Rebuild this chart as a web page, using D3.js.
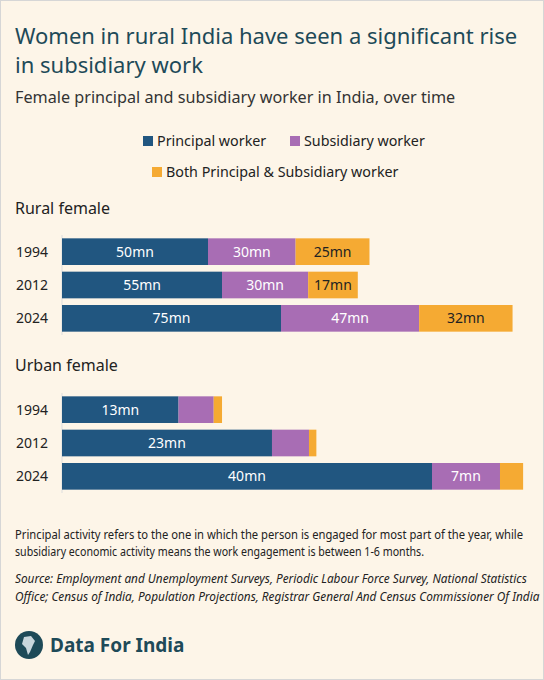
<!DOCTYPE html>
<html><head><meta charset="utf-8">
<script src="https://cdn.jsdelivr.net/npm/d3@7"></script>
<style>body{margin:0;background:#fff}</style>
</head><body><div class="container"></div>
<script>
const years = ['1994', '2012', '2024']
const seriesNames = ['Principal worker', 'Subsidiary worker', 'Both Principal & Subsidiary worker']
const colors = ['#215680', '#a86db4', '#f5aa33']
// rural female, millions
const ruralPrincipal = [50, 54.8, 75]
const ruralSubsidiary = [30, 29.5, 47.3]
const ruralBoth = [25.3, 17, 32]
const ruralLabels = [['50mn', '30mn', '25mn'], ['55mn', '30mn', '17mn'], ['75mn', '47mn', '32mn']]
// urban female, millions
const urbanPrincipal = [12.6, 22.7, 40]
const urbanSubsidiary = [3.8, 4.0, 7.35]
const urbanBoth = [0.9, 0.8, 2.5]
const urbanLabels = [['13mn', '', ''], ['23mn', '', ''], ['40mn', '7mn', '']]

const W = 544, H = 680
const svg = d3.select('.container').append('svg').attr('width', W).attr('height', H)
  .style('font-family', '"Noto Sans", sans-serif')
svg.append('rect').attr('x', 0.5).attr('y', 0.5).attr('width', W - 1).attr('height', H - 1)
  .attr('fill', '#fdf5e8').attr('stroke', '#d6d6d6')

const ink = '#1e4a58'
svg.append('text').attr('x', 15).attr('y', 44).attr('fill', ink).attr('font-size', 22).text('Women in rural India have seen a significant rise')
svg.append('text').attr('x', 15).attr('y', 73).attr('fill', ink).attr('font-size', 22).text('in subsidiary work')
svg.append('text').attr('x', 15).attr('y', 103).attr('fill', '#333').attr('font-size', 16.2).text('Female principal and subsidiary worker in India, over time')

// legend
const legendPos = [[143, 146], [290, 146], [152, 177]]
seriesNames.forEach((n, i) => {
  const [lx, ly] = legendPos[i]
  svg.append('rect').attr('x', lx).attr('y', ly - 10).attr('width', 10).attr('height', 10).attr('fill', colors[i])
  svg.append('text').attr('x', lx + 14).attr('y', ly).attr('font-size', 14.3).attr('fill', '#222').text(n)
})

function panel(title, titleY, top, pxPerMn, series, labels) {
  svg.append('text').attr('x', 15).attr('y', titleY).attr('font-size', 16).attr('fill', '#222').text(title)
  const x = d3.scaleLinear().domain([0, 1]).range([62, 62 + pxPerMn])
  const y = d3.scaleBand().domain(years).range([top, top + 100]).paddingInner(0.2).paddingOuter(0.1)
  const rows = years.map((yr, i) => ({ yr, vals: series.map(s => s[i]), labels: labels[i] }))
  const stack = d3.stack().keys([0, 1, 2]).value((d, k) => d.vals[k])(rows)
  svg.append('line').attr('x1', 62).attr('x2', 62).attr('y1', top).attr('y2', top + 100).attr('stroke', '#ddd')
  stack.forEach((layer, k) => {
    layer.forEach((seg, i) => {
      const x0 = x(seg[0]), x1 = x(seg[1])
      svg.append('rect').attr('x', x0).attr('y', y(years[i])).attr('width', x1 - x0)
        .attr('height', y.bandwidth()).attr('fill', colors[k])
      const lab = rows[i].labels[k]
      if (lab) svg.append('text').attr('x', (x0 + x1) / 2).attr('y', y(years[i]) + y.bandwidth() / 2 + 5)
        .attr('text-anchor', 'middle').attr('font-size', 14).attr('fill', k === 2 ? '#222' : '#fff').text(lab)
    })
  })
  years.forEach(yr => svg.append('text').attr('x', 48).attr('y', y(yr) + y.bandwidth() / 2 + 5)
    .attr('text-anchor', 'end').attr('font-size', 14).attr('fill', '#222').text(yr))
}
panel('Rural female', 214, 235, 2.92, [ruralPrincipal, ruralSubsidiary, ruralBoth], ruralLabels)
panel('Urban female', 371, 393, 9.25, [urbanPrincipal, urbanSubsidiary, urbanBoth], urbanLabels)

svg.append('text').attr('x', 15).attr('y', 539).attr('font-size', 12).attr('fill', '#222')
  .attr('textLength', 508).attr('lengthAdjust', 'spacingAndGlyphs')
  .text('Principal activity refers to the one in which the person is engaged for most part of the year, while')
svg.append('text').attr('x', 15).attr('y', 556).attr('font-size', 12).attr('fill', '#222')
  .attr('textLength', 409).attr('lengthAdjust', 'spacingAndGlyphs')
  .text('subsidiary economic activity means the work engagement is between 1-6 months.')
const src = ['Source: Employment and Unemployment Surveys, Periodic Labour Force Survey, National Statistics',
  'Office; Census of India, Population Projections, Registrar General And Census Commissioner Of India']
src.forEach((t, i) => svg.append('text').attr('x', 15).attr('y', 583 + i * 18).attr('font-size', 11.8)
  .attr('font-style', 'italic').attr('fill', '#222').text(t))

// logo
svg.append('circle').attr('cx', 29).attr('cy', 645).attr('r', 14).attr('fill', ink)
svg.append('path').attr('d', 'M24,637 L31,636 L35,641 L33,645 L30,652 L28,655 L26,648 L22,644 Z').attr('fill', '#c9d6dc')
svg.append('text').attr('x', 50).attr('y', 652).attr('font-size', 19).attr('font-weight', 'bold').attr('fill', ink).text('Data For India')
</script></body></html>
